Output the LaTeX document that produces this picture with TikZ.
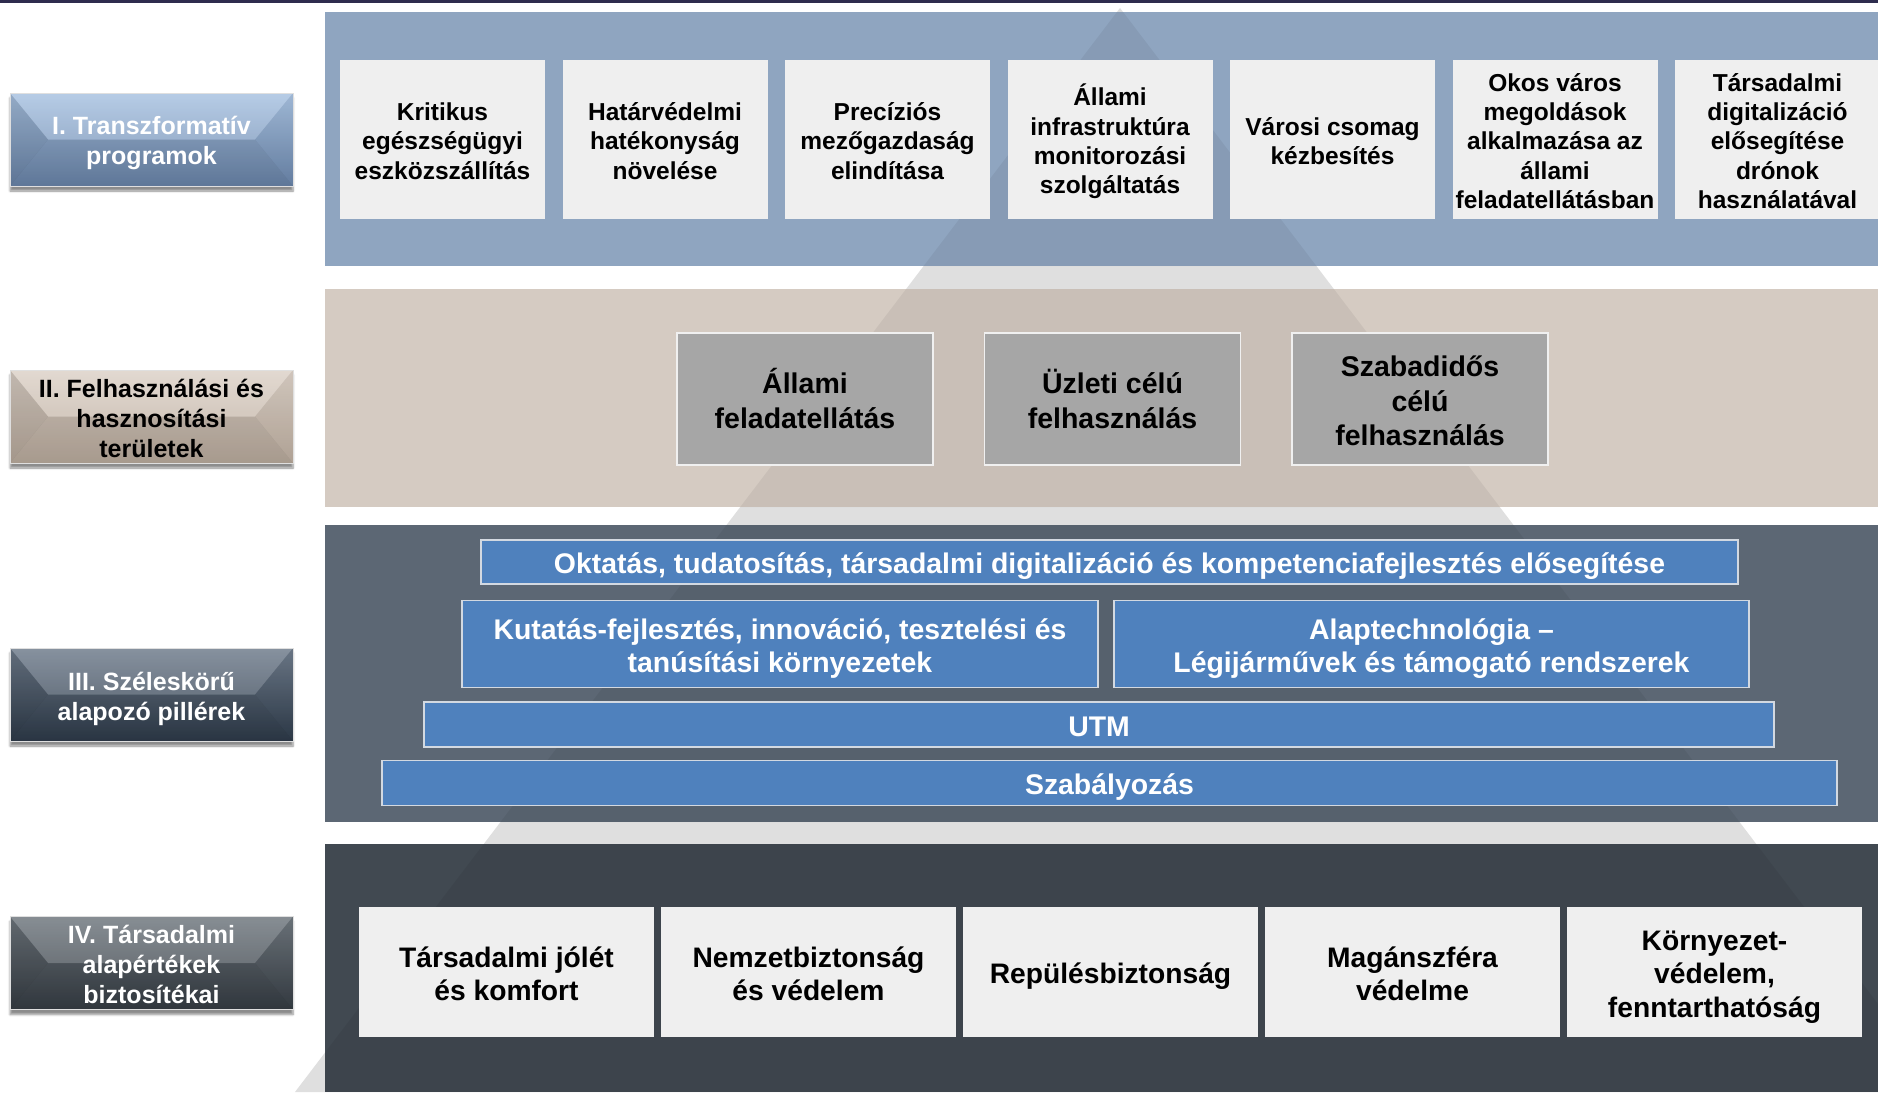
\documentclass[tikz,border=0pt]{standalone}
\usepackage{fontspec}
\setmainfont{Liberation Sans}
\usepackage{xcolor}
\definecolor{topline}{HTML}{2E2C4E}
\definecolor{bandone}{HTML}{8FA5C0}
\definecolor{bandtwo}{HTML}{D5CBC2}
\definecolor{bandthree}{HTML}{5C6774}
\definecolor{bandfour}{HTML}{414951}
\definecolor{pyramid}{HTML}{DFDFDF}
\definecolor{lightbox}{HTML}{EFEFEF}
\definecolor{midbox}{HTML}{A6A6A6}
\definecolor{pillar}{HTML}{4F81BD}
\definecolor{pillarrim}{HTML}{D3D9E1}
\definecolor{labonetop}{HTML}{A9C3E2}
\definecolor{labonemid}{HTML}{7891B4}
\definecolor{labonebot}{HTML}{6A85AA}
\definecolor{labtwotop}{HTML}{DDD2C8}
\definecolor{labtwomid}{HTML}{CBBDB0}
\definecolor{labtwobot}{HTML}{BBAC9E}
\definecolor{labthreetop}{HTML}{707D8D}
\definecolor{labthreemid}{HTML}{37475A}
\definecolor{labthreebot}{HTML}{2E3B4A}
\definecolor{labfourtop}{HTML}{70787F}
\definecolor{labfourmid}{HTML}{434B53}
\definecolor{labfourbot}{HTML}{363D44}
\usetikzlibrary{positioning}
\usetikzlibrary{shadows.blur}
\newcommand{\ppstrut}{\rule[-0.2em]{0pt}{1.25em}}
\newcommand{\topstrut}{\rule{0pt}{1.05em}}

\begin{document}
\begin{tikzpicture}[x=1pt,y=-1pt,
  every node/.style={inner sep=0,outer sep=0,align=center,font=\bfseries,execute at end node=\ppstrut},
  lab/.style={minimum width=283pt,minimum height=93pt,draw=white!75!gray,line width=.6pt,
    font=\fontsize{25}{30}\selectfont\bfseries,
    blur shadow={shadow xshift=0pt,shadow yshift=-5pt,shadow blur steps=6,shadow opacity=45},
    path picture={
      \fill[white,opacity=.16] (path picture bounding box.north west) -- (path picture bounding box.north east)
        -- ([xshift=-38pt]path picture bounding box.east) -- ([xshift=38pt]path picture bounding box.west) -- cycle;
      \fill[black,opacity=.10] (path picture bounding box.south west) -- (path picture bounding box.south east)
        -- ([xshift=-38pt]path picture bounding box.east) -- ([xshift=38pt]path picture bounding box.west) -- cycle;
      \fill[black,opacity=.12] (path picture bounding box.north west) -- (path picture bounding box.south west)
        -- ([xshift=38pt]path picture bounding box.west) -- cycle;
      \fill[black,opacity=.06] (path picture bounding box.north east) -- (path picture bounding box.south east)
        -- ([xshift=-38pt]path picture bounding box.east) -- cycle;}},
  prog/.style={fill=lightbox,minimum width=205pt,minimum height=159pt,font=\fontsize{24.5}{29.3}\selectfont\bfseries},
  area/.style={fill=midbox,draw=white!88!gray,line width=1.2pt,minimum width=256pt,minimum height=132pt,
    font=\fontsize{28.5}{34.5}\selectfont\bfseries},
  pillarbar/.style={fill=pillar,draw=pillarrim,line width=1.5pt,text=white,font=\fontsize{28.4}{33.5}\selectfont\bfseries},
  value/.style={fill=lightbox,minimum width=295pt,minimum height=130pt,font=\fontsize{28.2}{33.5}\selectfont\bfseries}]
  \useasboundingbox (0,0) rectangle (1878,1092);
  \fill[topline] (0,0) rectangle (1878,2.5);

  % pyramid behind the bands
  \fill[pyramid] (1120,8) -- (1945,1092) -- (295,1092) -- cycle;
  \fill[bandone] (325,12) rectangle (1878,266);
  \fill[bandtwo] (325,289) rectangle (1878,507);
  \fill[bandthree] (325,525) rectangle (1878,822);
  \fill[bandfour] (325,844) rectangle (1878,1092);
  \begin{scope}
    \clip (325,12) rectangle (1878,266) (325,289) rectangle (1878,507)
      (325,525) rectangle (1878,822) (325,844) rectangle (1878,1092);
    \fill[black,opacity=.055] (1120,8) -- (1945,1092) -- (295,1092) -- cycle;
  \end{scope}

  % level labels
  \node (lab1) [lab,text=white,top color=labonetop,middle color=labonemid,bottom color=labonebot] at (151.5,139.5)
    {\topstrut I. Transzformatív\\programok};
  \node (lab2) [lab,text=black,top color=labtwotop,middle color=labtwomid,bottom color=labtwobot] at (151.5,416.5)
    {\topstrut II. Felhasználási és\\hasznosítási\\területek};
  \node (lab3) [lab,text=white,top color=labthreetop,middle color=labthreemid,bottom color=labthreebot] at (151.5,694.5)
    {\topstrut III. Széleskörű\\alapozó pillérek};
  \node (lab4) [lab,text=white,top color=labfourtop,middle color=labfourmid,bottom color=labfourbot] at (151.5,963)
    {\topstrut IV. Társadalmi\\alapértékek\\biztosítékai};

  % I. programs
  \node (p1) [prog] at (442.5,139.5) {\topstrut Kritikus\\egészségügyi\\eszközszállítás};
  \node (p2) [prog,right=17.5pt of p1] {\topstrut Határvédelmi\\hatékonyság\\növelése};
  \node (p3) [prog,right=17.5pt of p2] {\topstrut Precíziós\\mezőgazdaság\\elindítása};
  \node (p4) [prog,right=17.5pt of p3] {\topstrut Állami\\infrastruktúra\\monitorozási\\szolgáltatás};
  \node (p5) [prog,right=17.5pt of p4] {\topstrut Városi csomag\\kézbesítés};
  \node (p6) [prog,right=17.5pt of p5] {\topstrut Okos város\\megoldások\\alkalmazása az\\állami\\feladatellátásban};
  \node (p7) [prog,right=17.5pt of p6] {\topstrut Társadalmi\\digitalizáció\\elősegítése\\drónok\\használatával};

  % II. areas
  \node (a1) [area] at (805,399) {\topstrut Állami\\feladatellátás};
  \node (a2) [area,right=51.5pt of a1] {\topstrut Üzleti célú\\felhasználás};
  \node (a3) [area,right=51.5pt of a2] {\topstrut Szabadidős\\célú\\felhasználás};

  % III. pillars
  \node (okt) [pillarbar,minimum width=1257pt,minimum height=44pt] at (1109.5,562)
    {Oktatás, tudatosítás, társadalmi digitalizáció és kompetenciafejlesztés elősegítése};
  \node (kut) [pillarbar,minimum width=636pt,minimum height=87pt] at (780,644)
    {\topstrut Kutatás-fejlesztés, innováció, tesztelési és\\tanúsítási környezetek};
  \node (alap) [pillarbar,minimum width=635pt,minimum height=87pt] at (1431.5,644)
    {\topstrut Alaptechnológia –\\Légijárművek és támogató rendszerek};
  \node (utm) [pillarbar,minimum width=1350pt,minimum height=45pt] at (1099,724.5) {UTM};
  \node (szab) [pillarbar,minimum width=1455pt,minimum height=45pt] at (1109.5,783) {Szabályozás};

  % IV. values
  \node (v1) [value] at (506.5,972) {\topstrut Társadalmi jólét\\és komfort};
  \node (v2) [value,right=7pt of v1] {\topstrut Nemzetbiztonság\\és védelem};
  \node (v3) [value,right=7pt of v2] {Repülésbiztonság};
  \node (v4) [value,right=7pt of v3] {\topstrut Magánszféra\\védelme};
  \node (v5) [value,right=7pt of v4] {\topstrut Környezet-\\védelem,\\fenntarthatóság};
\end{tikzpicture}
\end{document}
